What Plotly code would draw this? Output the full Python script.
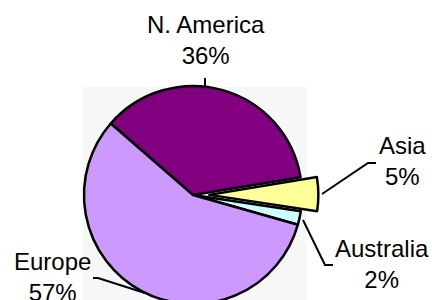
import plotly.graph_objects as go

# ---- data ----
regions = ["N. America", "Asia", "Australia", "Europe"]
shares = [36, 5, 2, 57]
colors = ["#800080", "#FFFF99", "#CCFFFF", "#CC99FF"]
pulls = [0, 0.15, 0, 0]

W, H = 432, 330


def px(x):
    return x / W


def py(y):
    return 1 - y / H


total = sum(shares)
pct = [f"{round(v / total * 100)}%" for v in shares]

# pie geometry (pixels)
cx, cy = 193, 195
half = 109 * (1 + max(pulls))

fig = go.Figure()
fig.add_trace(go.Pie(
    labels=regions,
    values=shares,
    sort=False,
    direction="clockwise",
    rotation=-49,
    pull=pulls,
    marker=dict(colors=colors, line=dict(color="black", width=2.5)),
    textinfo="none",
    hoverinfo="label+percent",
    showlegend=False,
    domain=dict(x=[px(cx - half), px(cx + half)], y=[py(cy + half), py(cy - half)]),
))

# label positions (pixels): centre x, middle y
label_pos = {
    "N. America": (206, 40),
    "Asia": (402, 161),
    "Australia": (382, 264),
    "Europe": (52, 277),
}
for name, p in zip(regions, pct):
    x, y = label_pos[name]
    fig.add_annotation(
        x=px(x), y=py(y), xref="paper", yref="paper",
        text=f"{name}<br>{p}", showarrow=False,
        xanchor="center", yanchor="middle", align="center",
        font=dict(family="Liberation Sans, Arial, sans-serif", size=24, color="black"),
    )

# leader lines (pixels)
leaders = [
    [(205, 78), (205, 87)],
    [(376, 163), (368, 163), (322, 194)],
    [(333, 265), (325, 265), (303, 220)],
    [(93, 278), (98, 278), (145, 293)],
]
shapes = [dict(type="rect", xref="paper", yref="paper",
               x0=px(83), x1=px(307), y0=py(H), y1=py(87),
               fillcolor="#f7f7f7", line=dict(width=0), layer="below")]
for pts in leaders:
    path = "M " + " L ".join(f"{px(a)},{py(b)}" for a, b in pts)
    shapes.append(dict(type="path", xref="paper", yref="paper", path=path,
                       line=dict(color="black", width=2), layer="above"))

fig.update_layout(
    width=W, height=H,
    margin=dict(l=0, r=0, t=0, b=0),
    paper_bgcolor="white",
    plot_bgcolor="white",
    shapes=shapes,
)

fig.write_html(
    "out.html",
    config={"displayModeBar": False},
    post_script="document.documentElement.style.overflow='hidden';document.body.style.overflow='hidden';document.body.style.margin='0';",
)
